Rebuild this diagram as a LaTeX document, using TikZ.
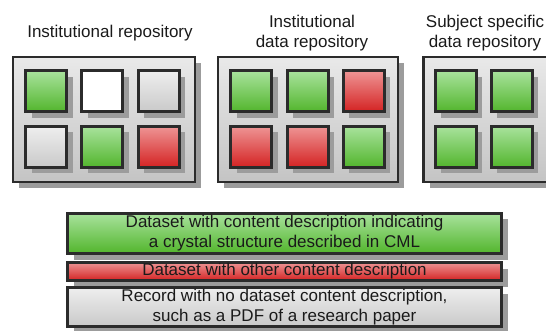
\documentclass[tikz,border=0pt]{standalone}
\usepackage{fontspec}
\setmainfont{Liberation Sans}
\usetikzlibrary{shadows}

\definecolor{edge}{HTML}{2B2B2B}
\definecolor{shade}{HTML}{9C9C9C}
\definecolor{greentop}{HTML}{A8E29C}
\definecolor{greenbot}{HTML}{52B52C}
\definecolor{redtop}{HTML}{EE9494}
\definecolor{redbot}{HTML}{D42222}
\definecolor{greytop}{HTML}{EEEEEE}
\definecolor{greybot}{HTML}{C9C9C9}
\definecolor{boxtop}{HTML}{E9E9E9}
\definecolor{boxbot}{HTML}{C4C4C4}
\definecolor{ink}{HTML}{1A1A1A}

\tikzset{
  shadowed/.style={drop shadow={shadow xshift=6pt, shadow yshift=-6pt, fill=shade, opacity=1}},
  repo/.style={draw=edge, line width=2.5pt, rectangle, inner sep=0pt,
    top color=boxtop, bottom color=boxbot, shadowed,
    minimum width=182pt, minimum height=125pt},
  item/.style={draw=edge, line width=3pt, rectangle, inner sep=0pt,
    minimum width=41pt, minimum height=41pt, shadowed},
  crystal/.style={item, top color=greentop, bottom color=greenbot},
  other/.style={item, top color=redtop, bottom color=redbot},
  record/.style={item, top color=greytop, bottom color=greybot},
  blank/.style={item, fill=white},
  key/.style={draw=edge, line width=3pt, rectangle, inner sep=0pt,
    minimum width=434pt, align=center, text=ink, shadowed,
    font=\fontsize{17}{20}\selectfont},
  title/.style={anchor=base, align=center, text=ink, inner sep=0pt,
    font=\fontsize{17}{20}\selectfont}
}

\begin{document}
\begin{tikzpicture}[x=1pt, y=-1pt]
  \useasboundingbox (0,0) rectangle (546,331);
  \clip (0,0) rectangle (546,331);

  % repository titles (base anchor sits on the last line)
  \node[title] (t1) at (110,38) {Institutional repository};
  \node[title] (t2) at (312,48) {Institutional\\data repository};
  \node[title] (t3) at (485,48) {Subject specific\\data repository};

  % repository containers
  \node[repo] (r1) at (104,119.5) {};
  \node[repo, minimum width=180pt] (r2) at (308,119.5) {};
  \node[repo] (r3) at (514.5,119.5) {};

  % institutional repository
  \node[crystal] (a1) at (46,91.5) {};
  \node[blank]   (a2) at (102,91.5) {};
  \node[record]  (a3) at (158.5,91.5) {};
  \node[record]  (a4) at (46,147) {};
  \node[crystal] (a5) at (102,147) {};
  \node[other]   (a6) at (158.5,147) {};

  % institutional data repository
  \node[crystal] (b1) at (251,91.5) {};
  \node[crystal] (b2) at (307.5,91.5) {};
  \node[other]   (b3) at (363.5,91.5) {};
  \node[other]   (b4) at (251,147) {};
  \node[other]   (b5) at (307.5,147) {};
  \node[crystal] (b6) at (363.5,147) {};

  % subject specific data repository
  \node[crystal] (c1) at (455.5,91.5) {};
  \node[crystal] (c2) at (511.5,91.5) {};
  \node[crystal] (c3) at (455.5,147) {};
  \node[crystal] (c4) at (511.5,147) {};

  % legend
  \node[key, minimum height=40pt, top color=greentop, bottom color=greenbot] (k1) at (284.5,233.5)
    {Dataset with content description indicating\\a crystal structure described in CML};
  \node[key, minimum height=18pt, top color=redtop, bottom color=redbot] (k2) at (284.5,271.5)
    {Dataset with other content description};
  \node[key, minimum height=39pt, top color=greytop, bottom color=greybot] (k3) at (284.5,307)
    {Record with no dataset content description,\\such as a PDF of a research paper};
\end{tikzpicture}
\end{document}
